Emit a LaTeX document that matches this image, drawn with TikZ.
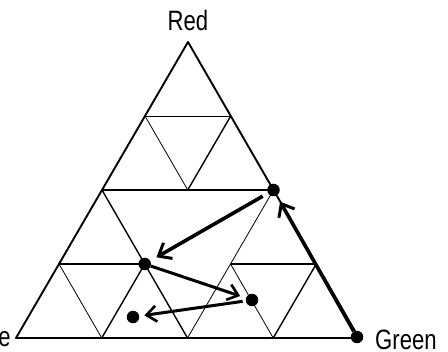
\documentclass[tikz,border=0pt]{standalone}
\usepackage{fontspec}
\setmainfont[FakeStretch=0.79]{Liberation Sans}
\usetikzlibrary{arrows.meta,calc}
\begin{document}
\begin{tikzpicture}[x=1pt,y=-1pt,
  mainline/.style={line width=1.9pt,line join=round},
  midline/.style={line width=1.4pt},
  thinline/.style={line width=0.8pt},
  dot/.style={circle,fill=black,inner sep=0pt,minimum size=12.5pt},
  lbl/.style={font=\fontsize{28}{30}\selectfont,inner sep=0pt},
  arr/.style={line width=3.6pt,-{Straight Barb[length=11pt,width=18pt,line width=3pt]}},
  arrb/.style={line width=3pt,-{Straight Barb[length=10pt,width=16pt,line width=2.6pt]}}]
\useasboundingbox (0,0) rectangle (448,352);
% main vertices
\coordinate (A) at (188,42);
\coordinate (B) at (16,338);
\coordinate (C) at (359,338);
\coordinate (AB) at ($(A)!0.5!(B)$);
\coordinate (AC) at ($(A)!0.5!(C)$);
\coordinate (BC) at ($(B)!0.5!(C)$);
% sub midpoints
\coordinate (T1) at ($(A)!0.5!(AB)$);
\coordinate (T2) at ($(A)!0.5!(AC)$);
\coordinate (T3) at ($(AB)!0.5!(AC)$);
\coordinate (L1) at ($(B)!0.5!(AB)$);
\coordinate (L2) at ($(AB)!0.5!(BC)$);
\coordinate (L3) at ($(B)!0.5!(BC)$);
\coordinate (R1) at ($(BC)!0.5!(AC)$);
\coordinate (R2) at ($(AC)!0.5!(C)$);
\coordinate (R3) at ($(BC)!0.5!(C)$);
% outer triangle
\draw[mainline] (A) -- (B) -- (C) -- cycle;
% first subdivision
\draw[mainline] (AB) -- (AC);
\draw[midline] (AB) -- (BC);
\draw[thinline] (AC) -- (BC);
% top sub-triangle
\draw[thinline] (T1) -- (T2);
\draw[thinline] (T1) -- (T3);
\draw[midline] (T2) -- (T3);
% bottom-left sub-triangle
\draw[midline] (L1) -- (L2);
\draw[thinline] (L1) -- (L3);
\draw[midline] (L2) -- (L3);
% bottom-right sub-triangle
\draw[midline] (R1) -- (R2);
\draw[thinline] (R1) -- (R3);
\draw[midline] (R2) -- (R3);
% dots
\node[dot] (d1) at (AC) {};
\node[dot] (d2) at (L2) {};
\node[dot] (d3) at (252,300) {};
\node[dot] (d4) at (133,317) {};
\node[dot] (d5) at (357,337) {};
% arrows
\draw[arr,shorten >=7pt] (d5) -- (d1);
\draw[arr,shorten <=6pt,shorten >=7pt] (d1) -- (d2);
\draw[arrb,shorten >=6pt] (d2) -- (d3);
\draw[arrb,shorten <=3pt,shorten >=5pt] (d3) -- (d4);
% labels
\node[lbl,anchor=base] (red) at (188,31) {Red};
\node[lbl,anchor=base west] (green) at (375,350) {Green};
\node[lbl,anchor=base east] (blue) at (11,347) {Blue};
\end{tikzpicture}
\end{document}
